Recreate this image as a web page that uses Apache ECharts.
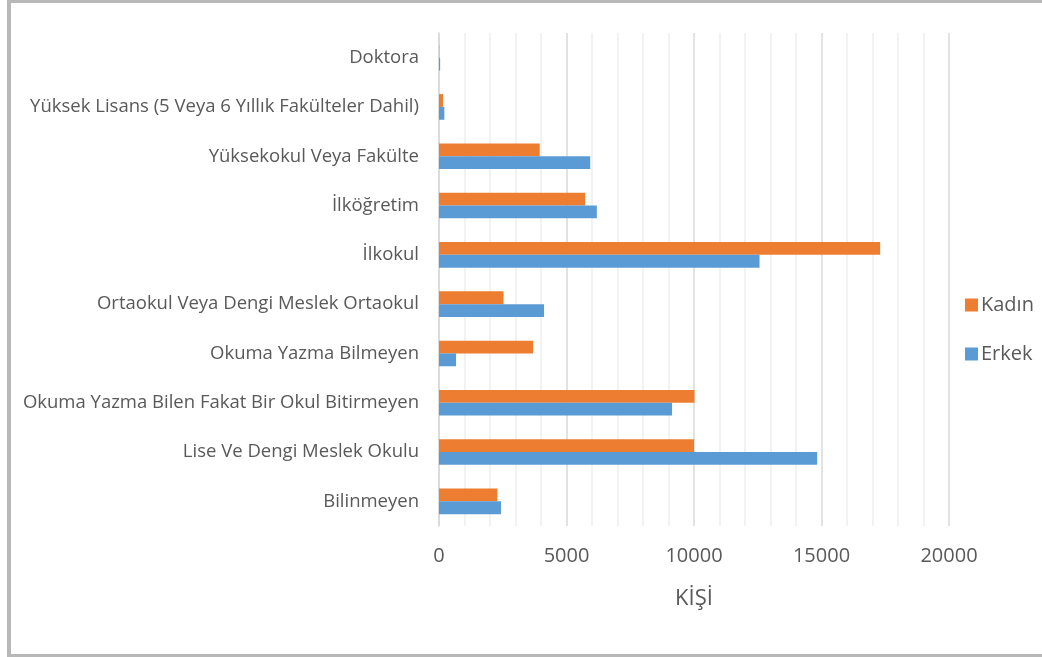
<!DOCTYPE html>
<html>
<head>
<meta charset="utf-8">
<script src="https://cdn.jsdelivr.net/npm/echarts@6/dist/echarts.min.js"></script>
<style>
  html, body { margin: 0; padding: 0; background: #fff; }
  #wrap { position: relative; width: 1042px; height: 657px; overflow: hidden; }
  #main { position: absolute; left: 0; top: 0; width: 1042px; height: 657px; }
  #frame {
    position: absolute; left: 7px; top: 0; width: 1040px; height: 657px;
    border-left: 4px solid #b8b8b8; border-top: 3px solid #b8b8b8; border-bottom: 3px solid #b8b8b8;
    box-sizing: border-box; pointer-events: none;
  }
</style>
</head>
<body>
<div id="wrap">
  <div id="main"></div>
  <div id="frame"></div>
</div>
<script>
// kategoriler, alttan üste
const categories = [
  'Bilinmeyen',
  'Lise Ve Dengi Meslek Okulu',
  'Okuma Yazma Bilen Fakat Bir Okul Bitirmeyen',
  'Okuma Yazma Bilmeyen',
  'Ortaokul Veya Dengi Meslek Ortaokul',
  'İlkokul',
  'İlköğretim',
  'Yüksekokul Veya Fakülte',
  'Yüksek Lisans (5 Veya 6 Yıllık Fakülteler Dahil)',
  'Doktora'
]
const kadin = [2290, 10000, 10020, 3690, 2530, 17300, 5730, 3950, 160, 10]
const erkek = [2430, 14830, 9140, 670, 4120, 12570, 6190, 5930, 210, 45]
const xTicks = [0, 5000, 10000, 15000, 20000]

let myChart = echarts.init(document.getElementById('main'))
myChart.setOption({
  animation: false,
  textStyle: { fontFamily: 'Open Sans, Noto Sans, sans-serif' },
  grid: { left: 439, right: 93, top: 33, bottom: 131 },
  legend: {
    data: ['Kadın', 'Erkek'],
    orient: 'vertical',
    left: 960,
    top: 290,
    itemWidth: 13,
    itemHeight: 13,
    itemGap: 29,
    icon: 'rect',
    textStyle: { fontSize: 20, color: '#595959', padding: [0, 0, 0, -2] }
  },
  xAxis: {
    type: 'value',
    min: xTicks[0],
    max: xTicks[xTicks.length - 1],
    interval: 5000,
    name: 'KİŞİ',
    nameLocation: 'middle',
    nameGap: 62,
    nameTextStyle: { fontSize: 22, color: '#595959' },
    axisLine: { show: false },
    axisTick: { show: false },
    axisLabel: { fontSize: 20, color: '#595959', margin: 20, formatter: v => String(v) },
    splitLine: { lineStyle: { color: '#d9d9d9', width: 1.5 } },
    minorTick: { show: false, splitNumber: 5 },
    minorSplitLine: { show: true, lineStyle: { color: '#eeeeee', width: 1.5 } }
  },
  yAxis: {
    type: 'category',
    data: categories,
    axisLine: { lineStyle: { color: '#d9d9d9', width: 1.5 } },
    axisTick: { show: false },
    axisLabel: { fontSize: 18.5, color: '#595959', margin: 20 }
  },
  series: [
    {
      name: 'Kadın',
      type: 'bar',
      data: kadin,
      barGap: '0%',
      barCategoryGap: '48%',
      itemStyle: { color: '#ed7d31' }
    },
    {
      name: 'Erkek',
      type: 'bar',
      data: erkek,
      barGap: '0%',
      barCategoryGap: '48%',
      itemStyle: { color: '#5b9bd5' }
    }
  ]
})
</script>
</body>
</html>
